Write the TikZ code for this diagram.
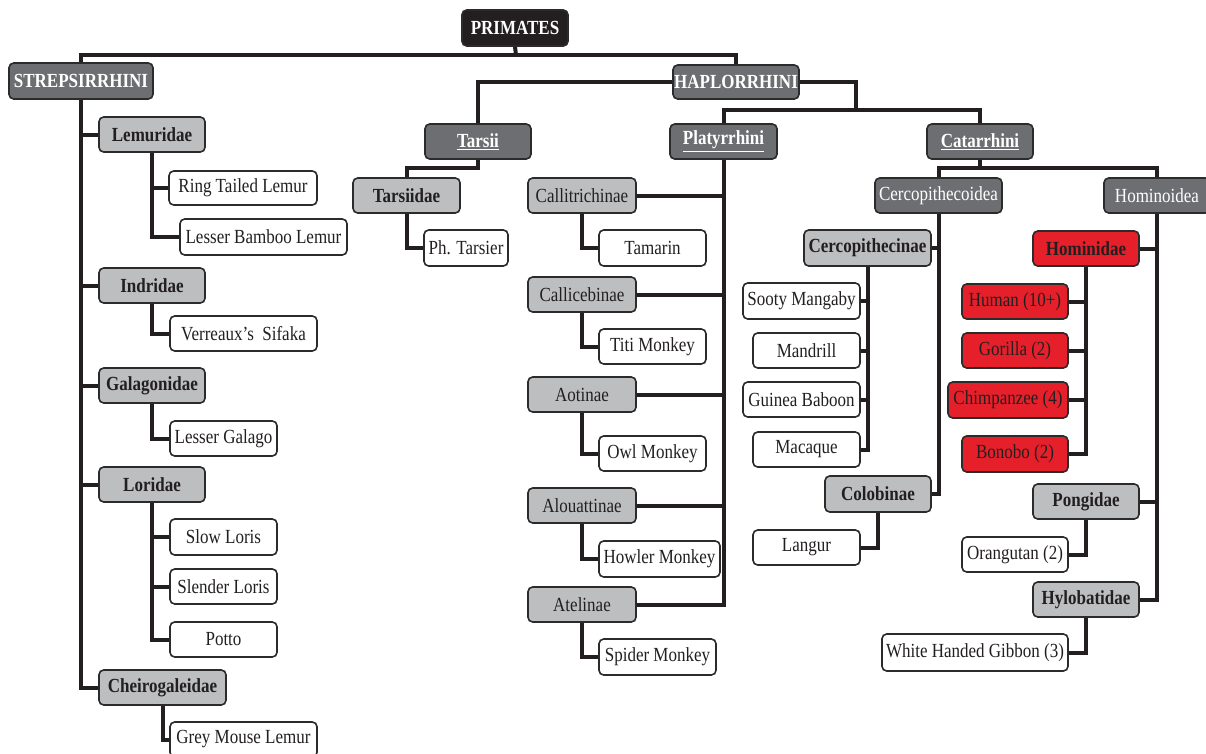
\documentclass[tikz,border=0pt]{standalone}
\usepackage{fontspec}
\setmainfont{Liberation Serif}[FakeStretch=0.85]
\newcommand\fs{\fontsize{15}{18}\selectfont}
\definecolor{dkgray}{HTML}{6D6E71}
\definecolor{ltgray}{HTML}{BCBEC0}
\definecolor{hred}{HTML}{E5202A}
\definecolor{ink}{HTML}{231F20}
\definecolor{bord}{HTML}{2B2B2B}
\newcommand\bx[7]{\node[#2, minimum width={(#5-#3)*0.75pt}, minimum height={(#6-#4)*0.75pt}] (#1) at ({(#3+#5)/2},{(#4+#6)/2}) {#7};}
\begin{document}
\begin{tikzpicture}[x=0.75pt,y=-0.75pt,
  box/.style={draw=bord, line width=1.2pt, rounded corners=3.5pt, inner sep=0pt, align=center, font=\fs},
  topbox/.style={box, fill=ink, text=white, font=\fs\bfseries},
  dark/.style={box, fill=dkgray, text=white, font=\fs\bfseries},
  darkreg/.style={box, fill=dkgray, text=white, font=\fs},
  fam/.style={box, fill=ltgray, text=ink, font=\fs\bfseries},
  sub/.style={box, fill=ltgray, text=ink, font=\fs},
  leaf/.style={box, fill=white, text=ink, font=\fs},
  redb/.style={box, fill=hred, text=ink, font=\fs},
  redfam/.style={box, fill=hred, text=ink, font=\fs\bfseries},
  conn/.style={draw=ink, line width=3pt}]
\useasboundingbox (0,0) rectangle (1206,753);

% ---- nodes ----
\bx{prim}{topbox}{462}{10}{568}{46}{PRIMATES}
\bx{strep}{dark}{9}{63}{153}{99}{STREPSIRRHINI}
\bx{haplo}{dark}{673}{65}{799}{99}{HAPLORRHINI}
\bx{tarsii}{dark}{425}{124}{531}{159}{\underline{Tarsii}}
\bx{platy}{dark}{670}{124}{777}{159}{\underline{Platyrrhini}}
\bx{catar}{dark}{927}{124}{1033}{159}{\underline{Catarrhini}}
\bx{cercoid}{darkreg}{875}{178}{1002}{213}{Cercopithecoidea}
\bx{hominoid}{darkreg}{1104}{178}{1210}{213}{Hominoidea}

% Strepsirrhini
\bx{lemur}{fam}{99}{117}{205}{152}{Lemuridae}
\bx{ring}{leaf}{169}{171}{317}{205}{Ring Tailed Lemur}
\bx{bamboo}{leaf}{180}{219}{347}{255}{Lesser Bamboo Lemur}
\bx{indri}{fam}{99}{268}{205}{303}{Indridae}
\bx{sifaka}{leaf}{170}{316}{317}{351}{Verreaux's\ \ Sifaka}
\bx{galag}{fam}{99}{368}{205}{403}{Galagonidae}
\bx{lgalago}{leaf}{170}{421}{277}{456}{Lesser Galago}
\bx{lorid}{fam}{99}{467}{205}{502}{Loridae}
\bx{slow}{leaf}{170}{519}{277}{555}{Slow Loris}
\bx{slender}{leaf}{170}{569}{277}{604}{Slender Loris}
\bx{potto}{leaf}{170}{622}{277}{657}{Potto}
\bx{cheiro}{fam}{99}{670}{226}{705}{Cheirogaleidae}
\bx{grey}{leaf}{170}{722}{317}{757}{Grey Mouse Lemur}

% Tarsii
\bx{tarsiidae}{fam}{353}{178}{460}{213}{Tarsiidae}
\bx{phtarsier}{leaf}{424}{230}{508}{266}{Ph. Tarsier}

% Platyrrhini
\bx{callit}{sub}{528}{178}{636}{213}{Callitrichinae}
\bx{tamarin}{leaf}{599}{230}{706}{266}{Tamarin}
\bx{callic}{sub}{528}{277}{636}{312}{Callicebinae}
\bx{titi}{leaf}{599}{329}{706}{364}{Titi Monkey}
\bx{aotin}{sub}{528}{377}{636}{412}{Aotinae}
\bx{owl}{leaf}{599}{436}{706}{471}{Owl Monkey}
\bx{alouat}{sub}{528}{488}{636}{523}{Alouattinae}
\bx{howler}{leaf}{599}{541}{720}{577}{Howler Monkey}
\bx{atelin}{sub}{528}{587}{636}{622}{Atelinae}
\bx{spider}{leaf}{599}{639}{716}{675}{Spider Monkey}

% Cercopithecoidea
\bx{cercin}{fam}{804}{230}{931}{266}{Cercopithecinae}
\bx{sooty}{leaf}{743}{283}{860}{319}{Sooty Mangaby}
\bx{mandrill}{leaf}{753}{333}{860}{368}{Mandrill}
\bx{guinea}{leaf}{743}{382}{860}{417}{Guinea Baboon}
\bx{macaque}{leaf}{753}{432}{860}{467}{Macaque}
\bx{colob}{fam}{825}{476}{931}{512}{Colobinae}
\bx{langur}{leaf}{753}{530}{860}{565}{Langur}

% Hominoidea
\bx{hominid}{redfam}{1033}{231}{1139}{266}{Hominidae}
\bx{human}{redb}{962}{284}{1068}{319}{Human (10+)}
\bx{gorilla}{redb}{962}{333}{1068}{368}{Gorilla (2)}
\bx{chimp}{redb}{948}{382}{1068}{418}{Chimpanzee (4)}
\bx{bonobo}{redb}{962}{436}{1068}{472}{Bonobo (2)}
\bx{pongid}{fam}{1033}{484}{1139}{519}{Pongidae}
\bx{orang}{leaf}{962}{537}{1068}{572}{Orangutan (2)}
\bx{hylob}{fam}{1033}{582}{1139}{617}{Hylobatidae}
\bx{gibbon}{leaf}{882}{634}{1068}{671}{White Handed Gibbon (3)}

% ---- junctions ----
\coordinate (j1) at (516,55);
\coordinate (j2) at (856,110);
\coordinate (j3) at (478,168);
\coordinate (j4) at (980,168);

% ---- connectors ----
\draw[conn] (prim.south) -- (j1);
\draw[conn] (strep.north) |- (j1) -| (haplo.north);
\draw[conn] (haplo.west) -| (tarsii.north);
\draw[conn] (haplo.east) -| (j2);
\draw[conn] (platy.north) |- (j2);
\draw[conn] (catar.north) |- (j2);

\draw[conn] (strep.south) |- (lemur.west);
\draw[conn] (strep.south) |- (indri.west);
\draw[conn] (strep.south) |- (galag.west);
\draw[conn] (strep.south) |- (lorid.west);
\draw[conn] (strep.south) |- (cheiro.west);
\draw[conn] (lemur.south) |- (ring.west);
\draw[conn] (lemur.south) |- (bamboo.west);
\draw[conn] (indri.south) |- (sifaka.west);
\draw[conn] (galag.south) |- (lgalago.west);
\draw[conn] (lorid.south) |- (slow.west);
\draw[conn] (lorid.south) |- (slender.west);
\draw[conn] (lorid.south) |- (potto.west);
\draw[conn] (cheiro.south) |- (grey.west);

\draw[conn] (tarsii.south) -- (j3) -| (tarsiidae.north);
\draw[conn] (tarsiidae.south) |- (phtarsier.west);

\draw[conn] (platy.south) |- (callit.east);
\draw[conn] (platy.south) |- (callic.east);
\draw[conn] (platy.south) |- (aotin.east);
\draw[conn] (platy.south) |- (alouat.east);
\draw[conn] (platy.south) |- (atelin.east);
\draw[conn] (callit.south) |- (tamarin.west);
\draw[conn] (callic.south) |- (titi.west);
\draw[conn] (aotin.south) |- (owl.west);
\draw[conn] (alouat.south) |- (howler.west);
\draw[conn] (atelin.south) |- (spider.west);

\draw[conn] (catar.south) -- (j4);
\draw[conn] (cercoid.north) |- (j4);
\draw[conn] (hominoid.north) |- (j4);

\draw[conn] (cercoid.south) |- (cercin.east);
\draw[conn] (cercoid.south) |- (colob.east);
\draw[conn] (cercin.south) |- (sooty.east);
\draw[conn] (cercin.south) |- (mandrill.east);
\draw[conn] (cercin.south) |- (guinea.east);
\draw[conn] (cercin.south) |- (macaque.east);
\draw[conn] (colob.south) |- (langur.east);

\draw[conn] (hominoid.south) |- (hominid.east);
\draw[conn] (hominoid.south) |- (pongid.east);
\draw[conn] (hominoid.south) |- (hylob.east);
\draw[conn] (hominid.south) |- (human.east);
\draw[conn] (hominid.south) |- (gorilla.east);
\draw[conn] (hominid.south) |- (chimp.east);
\draw[conn] (hominid.south) |- (bonobo.east);
\draw[conn] (pongid.south) |- (orang.east);
\draw[conn] (hylob.south) |- (gibbon.east);
\end{tikzpicture}
\end{document}
